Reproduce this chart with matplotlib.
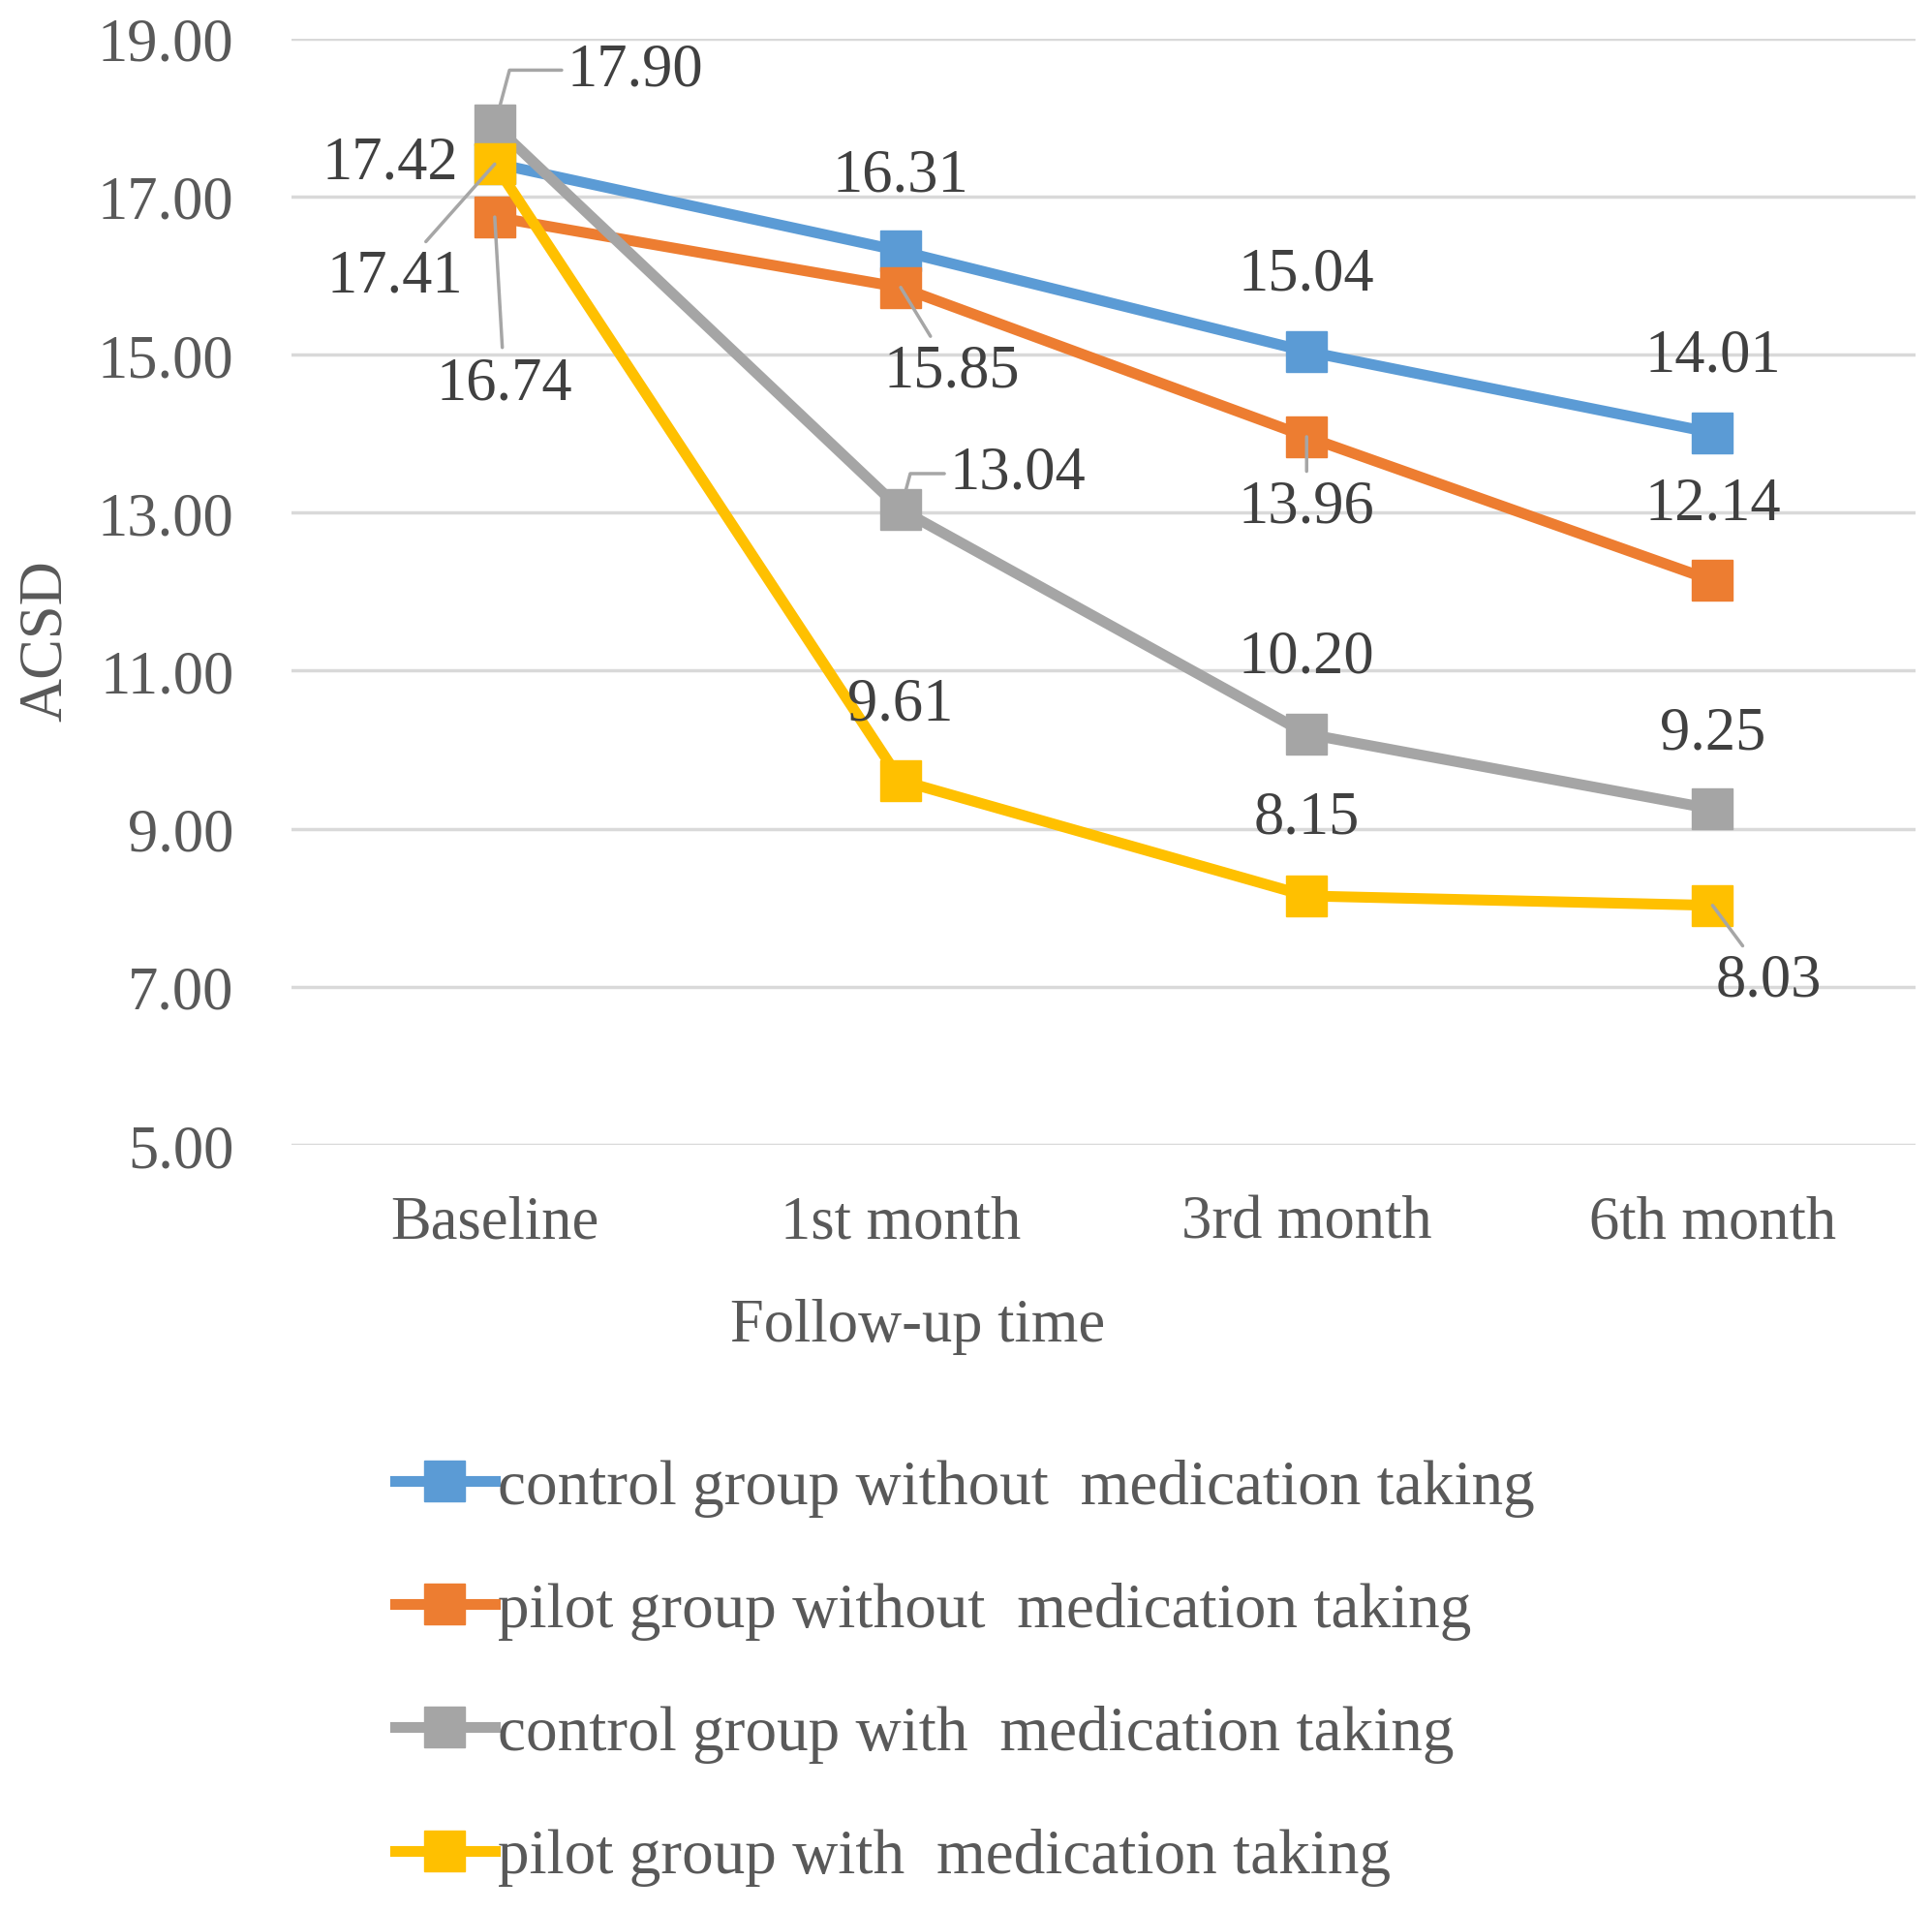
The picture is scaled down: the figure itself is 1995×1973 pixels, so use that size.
import matplotlib
matplotlib.use('Agg')
import matplotlib.pyplot as plt
from matplotlib.lines import Line2D

# Data
categories = ['Baseline', '1st month', '3rd month', '6th month']
series_names = ['control group without  medication taking',
                'pilot group without  medication taking',
                'control group with  medication taking',
                'pilot group with  medication taking']
control_without = [17.42, 16.31, 15.04, 14.01]
pilot_without = [16.74, 15.85, 13.96, 12.14]
control_with = [17.90, 13.04, 10.20, 9.25]
pilot_with = [17.41, 9.61, 8.15, 8.03]
y_ticks = [5, 7, 9, 11, 13, 15, 17, 19]

colors = ['#5B9BD5', '#ED7D31', '#A5A5A5', '#FFC000']
text_color = '#595959'
label_color = '#404040'
leader_color = '#A6A6A6'

plt.rcParams['font.family'] = ['Liberation Serif', 'DejaVu Serif']
FS = 45

fig = plt.figure(figsize=(19.95, 19.74), dpi=100)
ax = fig.add_axes([0.151, 0.4007, 0.8405, 0.5787])

all_series = [control_without, pilot_without, control_with, pilot_with]
x = list(range(len(categories)))
for vals, c, name in zip(all_series, colors, series_names):
    ax.plot(x, vals, color=c, lw=8, marker='s', markersize=30,
            markerfacecolor=c, markeredgecolor=c, label=name, zorder=3)

# label offsets in pixels (dx, dy), plus leader line style
# None = no leader, 'line' = straight, 'elbow' = bent stub
offsets = {
    (0, 0): (-108, 0, None),
    (0, 1): (10, -172, 'line'),
    (0, 2): (145, 57, 'elbow'),
    (0, 3): (-103, -116, 'line'),
    (1, 0): (0, 78, None),
    (1, 1): (53, -87, 'line'),
    (1, 2): (121, 37, 'elbow'),
    (1, 3): (0, 78, None),
    (2, 0): (0, 79, None),
    (2, 1): (0, -73, 'line'),
    (2, 2): (0, 79, None),
    (2, 3): (0, 80, None),
    (3, 0): (0, 79, None),
    (3, 1): (0, 79, None),
    (3, 2): (0, 78, None),
    (3, 3): (58, -78, 'line'),
}

for si, vals in enumerate(all_series):
    for xi, v in enumerate(vals):
        dx, dy, lead = offsets[(xi, si)]
        props = None
        if lead == 'line':
            props = dict(arrowstyle='-', color=leader_color, lw=2.5,
                         shrinkA=4, shrinkB=0)
        elif lead == 'elbow':
            props = dict(arrowstyle='-', color=leader_color, lw=2.5,
                         shrinkA=2, shrinkB=14,
                         connectionstyle='angle,angleA=0,angleB=75,rad=0')
        ax.annotate(f'{v:.2f}', (xi, v), xytext=(dx, dy),
                    textcoords='offset pixels', ha='center', va='center',
                    fontsize=FS, color=label_color, arrowprops=props,
                    zorder=5)

ax.set_xlim(-0.5, 3.5)
ax.set_ylim(5, 19)
ax.set_yticks(y_ticks)
ax.set_yticklabels([f'{t:.2f}' for t in y_ticks])
ax.set_xticks(x)
ax.set_xticklabels(categories)
ax.tick_params(axis='both', length=0, labelsize=FS, colors=text_color)
ax.tick_params(axis='y', pad=43)
ax.tick_params(axis='x', pad=37)
ax.grid(axis='y', color='#D9D9D9', lw=2.5, zorder=0)
for s in ax.spines.values():
    s.set_visible(False)

fig.text(0.475, 0.306, 'Follow-up time', ha='center', va='center',
         fontsize=FS, color=text_color)
fig.text(0.024, 0.665, 'ACSD', ha='center', va='center', rotation=90,
         fontsize=FS, color=text_color)

handles = [Line2D([0], [0], color=c, lw=8, marker='s', markersize=30,
                  markerfacecolor=c, markeredgecolor=c) for c in colors]
fig.legend(handles, series_names, loc='upper left',
           bbox_to_anchor=(0.175, 0.2665), frameon=False, fontsize=47,
           handlelength=1.58, handletextpad=0.05, labelspacing=1.03,
           labelcolor=text_color)

fig.savefig('out.png', dpi=100, facecolor='white')
